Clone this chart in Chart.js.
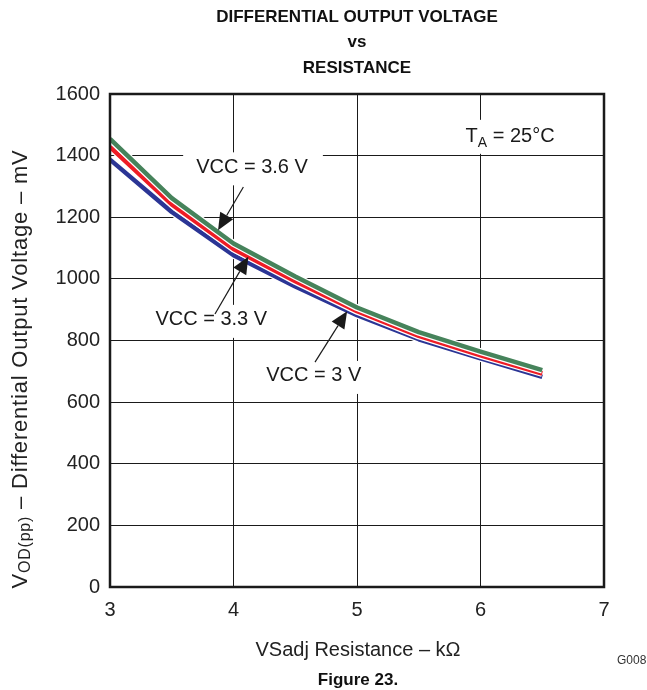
<!DOCTYPE html>
<html>
<head>
<meta charset="utf-8">
<script src="https://cdn.jsdelivr.net/npm/chart.js@4.4.1/dist/chart.umd.min.js"></script>
<style>
  html, body { margin: 0; padding: 0; background: #fff; }
  #wrap { width: 647px; height: 690px; }
</style>
</head>
<body>
<div id="wrap"><canvas id="c" width="647" height="690"></canvas></div>
<script>
// ---- data ----
const resistance = [3, 3.5, 4, 4.5, 5, 5.5, 6, 6.5];           // kΩ
const vcc36 = [1454, 1262, 1115, 1008, 907, 827, 764, 704];     // mV
const vcc33 = [1428, 1242, 1097, 992, 895, 815, 752, 693];
const vcc30 = [1387, 1217, 1077, 975, 882, 804, 742, 682];

const xTicks = [3, 4, 5, 6, 7];
const yTicks = [0, 200, 400, 600, 800, 1000, 1200, 1400, 1600];

const titleLines = ['DIFFERENTIAL OUTPUT VOLTAGE', 'vs', 'RESISTANCE'];
const xTitle = 'VSadj Resistance – kΩ';
const yTitleMain = 'V';
const yTitleSub = 'OD(pp)';
const yTitleRest = ' – Differential Output Voltage – mV';
const figureLabel = 'Figure 23.';
const codeLabel = 'G008';

// annotation labels (data coordinates)
const annLabels = ['VCC = 3.6 V', 'VCC = 3.3 V', 'VCC = 3 V'];
const annTextX = [4.15, 3.82, 4.65];
const annTextY = [1362, 867, 685];
const annFromX = [4.08, 3.85, 4.66];
const annFromY = [1298, 886, 730];
const annTipX = [3.875, 4.12, 4.92];
const annTipY = [1158, 1072, 895];
const tempX = 6.24, tempY = 1461;

const FONT = '"Liberation Sans", Arial, Helvetica, sans-serif';
const GREEN = '#46835b', RED = '#ee1c25', BLUE = '#2b3595';

function pts(ys) { return resistance.map((x, i) => ({ x: x, y: ys[i] })); }
function lineDs(ys, color, w, order) {
  return { data: pts(ys), borderColor: color, borderWidth: w, pointRadius: 0,
           tension: 0, fill: false, order: order, borderJoinStyle: 'round', borderCapStyle: 'butt' };
}

const decor = {
  id: 'decor',
  beforeDatasetsDraw(chart) {
    const ctx = chart.ctx, xs = chart.scales.x, ys = chart.scales.y;
    ctx.save();
    ctx.font = '20px ' + FONT;
    ctx.textAlign = 'center';
    ctx.textBaseline = 'middle';
    annLabels.forEach((t, i) => {
      const cx = xs.getPixelForValue(annTextX[i]);
      const cy = ys.getPixelForValue(annTextY[i]);
      const w = ctx.measureText(t).width;
      ctx.fillStyle = '#fff';
      ctx.fillRect(cx - w / 2 - 13, cy - 15, w + 28, 33);
    });
    const tx = xs.getPixelForValue(tempX), ty = ys.getPixelForValue(tempY);
    ctx.fillStyle = '#fff';
    ctx.fillRect(tx - 52, ty - 17, 104, 34);
    ctx.restore();
  },
  afterDatasetsDraw(chart) {
    const ctx = chart.ctx, xs = chart.scales.x, ys = chart.scales.y, a = chart.chartArea;
    ctx.save();
    ctx.strokeStyle = '#1a1a1a';
    ctx.lineWidth = 2.5;
    ctx.strokeRect(a.left, a.top, a.right - a.left, a.bottom - a.top);
    ctx.fillStyle = '#1a1a1a';
    ctx.font = '20px ' + FONT;
    ctx.textAlign = 'center';
    ctx.textBaseline = 'middle';
    annLabels.forEach((t, i) => {
      ctx.fillText(t, xs.getPixelForValue(annTextX[i]), ys.getPixelForValue(annTextY[i]));
      const fx = xs.getPixelForValue(annFromX[i]), fy = ys.getPixelForValue(annFromY[i]);
      const px = xs.getPixelForValue(annTipX[i]), py = ys.getPixelForValue(annTipY[i]);
      const dx = px - fx, dy = py - fy, L = Math.hypot(dx, dy);
      const ux = dx / L, uy = dy / L;
      const hl = 17, hw = 7.5;
      const bx = px - ux * hl, by = py - uy * hl;
      ctx.strokeStyle = '#1a1a1a';
      ctx.lineWidth = 1.2;
      ctx.beginPath(); ctx.moveTo(fx, fy); ctx.lineTo(bx, by); ctx.stroke();
      ctx.beginPath();
      ctx.moveTo(px, py);
      ctx.lineTo(bx - uy * hw, by + ux * hw);
      ctx.lineTo(bx + uy * hw, by - ux * hw);
      ctx.closePath(); ctx.fill();
    });
    const tx = xs.getPixelForValue(tempX), ty = ys.getPixelForValue(tempY);
    ctx.textAlign = 'left';
    ctx.font = '20px ' + FONT;
    const wT = ctx.measureText('T').width;
    ctx.font = '14px ' + FONT;
    const wA = ctx.measureText('A').width;
    ctx.font = '20px ' + FONT;
    const wR = ctx.measureText(' = 25°C').width;
    let sx = tx - (wT + wA + wR) / 2;
    ctx.fillText('T', sx, ty);
    ctx.font = '14px ' + FONT;
    ctx.fillText('A', sx + wT, ty + 6);
    ctx.font = '20px ' + FONT;
    ctx.fillText(' = 25°C', sx + wT + wA, ty);
    ctx.restore();
  },
  afterDraw(chart) {
    const ctx = chart.ctx, a = chart.chartArea;
    const cx = (a.left + a.right) / 2;
    ctx.save();
    ctx.fillStyle = '#111';
    ctx.textAlign = 'center';
    ctx.textBaseline = 'middle';
    ctx.font = 'bold 17px ' + FONT;
    titleLines.forEach((t, i) => ctx.fillText(t, cx, 17 + i * 25.5));
    ctx.fillStyle = '#222';
    ctx.font = '20px ' + FONT;
    ctx.fillText(xTitle, cx + 1, 650);
    ctx.fillStyle = '#111';
    ctx.font = 'bold 17px ' + FONT;
    ctx.fillText(figureLabel, cx + 1, 680);
    ctx.fillStyle = '#333';
    ctx.font = '12px ' + FONT;
    ctx.textAlign = 'left';
    ctx.fillText(codeLabel, 617, 661);
    // y title rotated
    ctx.fillStyle = '#222';
    ctx.translate(21, 369);
    ctx.rotate(-Math.PI / 2);
    ctx.letterSpacing = '0.8px';
    ctx.font = '22px ' + FONT;
    const w1 = ctx.measureText(yTitleMain).width;
    const w3 = ctx.measureText(yTitleRest).width;
    ctx.font = '16px ' + FONT;
    const w2 = ctx.measureText(yTitleSub).width;
    let s = -(w1 + w2 + w3) / 2;
    ctx.textAlign = 'left';
    ctx.font = '22px ' + FONT;
    ctx.fillText(yTitleMain, s, 0);
    ctx.font = '16px ' + FONT;
    ctx.fillText(yTitleSub, s + w1, 5);
    ctx.font = '22px ' + FONT;
    ctx.fillText(yTitleRest, s + w1 + w2, 0);
    ctx.restore();
  }
};

new Chart(document.getElementById('c'), {
  type: 'line',
  data: {
    datasets: [
      lineDs(vcc36, GREEN, 4.5, 0),
      lineDs(vcc36, '#ffffff', 7, 1),
      lineDs(vcc33, RED, 4.5, 2),
      lineDs(vcc33, '#ffffff', 7, 3),
      lineDs(vcc30, BLUE, 4.5, 4),
      lineDs(vcc30, '#ffffff', 7, 5)
    ]
  },
  options: {
    responsive: false,
    animation: false,
    layout: { padding: { top: 94, right: 43, left: 0, bottom: 0 } },
    plugins: { legend: { display: false }, tooltip: { enabled: false }, title: { display: false } },
    scales: {
      x: {
        type: 'linear', min: 3, max: 7,
        afterFit(s) { s.height = 103; },
        afterBuildTicks(s) { s.ticks = xTicks.map(v => ({ value: v })); },
        grid: { color: '#1a1a1a', lineWidth: 1, drawTicks: false },
        border: { display: false },
        ticks: { color: '#222', font: { family: FONT, size: 20 }, padding: 11, maxRotation: 0,
                 callback: v => String(v) }
      },
      y: {
        type: 'linear', min: 0, max: 1600,
        afterFit(s) { s.width = 110; },
        afterBuildTicks(s) { s.ticks = yTicks.map(v => ({ value: v })); },
        grid: { color: '#1a1a1a', lineWidth: 1, drawTicks: false },
        border: { display: false },
        ticks: { color: '#222', font: { family: FONT, size: 20 }, padding: 10,
                 callback: v => String(v) }
      }
    }
  },
  plugins: [decor]
});
</script>
</body>
</html>
